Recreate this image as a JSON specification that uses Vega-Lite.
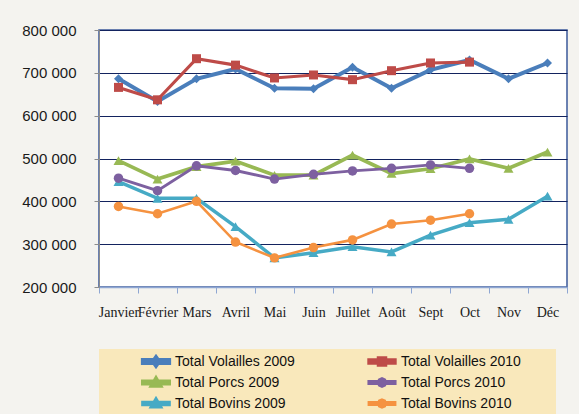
{
  "$schema": "https://vega.github.io/schema/vega-lite/v6.json",
  "width": 468,
  "height": 257,
  "autosize": {"type": "none"},
  "padding": {"left": 99, "top": 30, "right": 12, "bottom": 127},
  "background": "#f4f3ef",
  "config": {
    "view": {"fill": "white", "stroke": "#3b5a9a", "strokeWidth": 1.5},
    "axis": {"title": null}
  },
  "data": {
    "values": [
      {"month": "Janvier", "series": "Total Volailles 2009", "value": 686000},
      {"month": "Février", "series": "Total Volailles 2009", "value": 633000},
      {"month": "Mars", "series": "Total Volailles 2009", "value": 686000},
      {"month": "Avril", "series": "Total Volailles 2009", "value": 709000},
      {"month": "Mai", "series": "Total Volailles 2009", "value": 664000},
      {"month": "Juin", "series": "Total Volailles 2009", "value": 663000},
      {"month": "Juillet", "series": "Total Volailles 2009", "value": 713000},
      {"month": "Août", "series": "Total Volailles 2009", "value": 664000},
      {"month": "Sept", "series": "Total Volailles 2009", "value": 707000},
      {"month": "Oct", "series": "Total Volailles 2009", "value": 730000},
      {"month": "Nov", "series": "Total Volailles 2009", "value": 686000},
      {"month": "Déc", "series": "Total Volailles 2009", "value": 723000},
      {"month": "Janvier", "series": "Total Volailles 2010", "value": 666000},
      {"month": "Février", "series": "Total Volailles 2010", "value": 637000},
      {"month": "Mars", "series": "Total Volailles 2010", "value": 733000},
      {"month": "Avril", "series": "Total Volailles 2010", "value": 718000},
      {"month": "Mai", "series": "Total Volailles 2010", "value": 688000},
      {"month": "Juin", "series": "Total Volailles 2010", "value": 695000},
      {"month": "Juillet", "series": "Total Volailles 2010", "value": 684000},
      {"month": "Août", "series": "Total Volailles 2010", "value": 705000},
      {"month": "Sept", "series": "Total Volailles 2010", "value": 723000},
      {"month": "Oct", "series": "Total Volailles 2010", "value": 725000},
      {"month": "Janvier", "series": "Total Porcs 2009", "value": 495000},
      {"month": "Février", "series": "Total Porcs 2009", "value": 452000},
      {"month": "Mars", "series": "Total Porcs 2009", "value": 481000},
      {"month": "Avril", "series": "Total Porcs 2009", "value": 494000},
      {"month": "Mai", "series": "Total Porcs 2009", "value": 461000},
      {"month": "Juin", "series": "Total Porcs 2009", "value": 461000},
      {"month": "Juillet", "series": "Total Porcs 2009", "value": 508000},
      {"month": "Août", "series": "Total Porcs 2009", "value": 465000},
      {"month": "Sept", "series": "Total Porcs 2009", "value": 476000},
      {"month": "Oct", "series": "Total Porcs 2009", "value": 499000},
      {"month": "Nov", "series": "Total Porcs 2009", "value": 477000},
      {"month": "Déc", "series": "Total Porcs 2009", "value": 515000},
      {"month": "Janvier", "series": "Total Porcs 2010", "value": 454000},
      {"month": "Février", "series": "Total Porcs 2010", "value": 425000},
      {"month": "Mars", "series": "Total Porcs 2010", "value": 483000},
      {"month": "Avril", "series": "Total Porcs 2010", "value": 472000},
      {"month": "Mai", "series": "Total Porcs 2010", "value": 452000},
      {"month": "Juin", "series": "Total Porcs 2010", "value": 463000},
      {"month": "Juillet", "series": "Total Porcs 2010", "value": 471000},
      {"month": "Août", "series": "Total Porcs 2010", "value": 477000},
      {"month": "Sept", "series": "Total Porcs 2010", "value": 485000},
      {"month": "Oct", "series": "Total Porcs 2010", "value": 477000},
      {"month": "Janvier", "series": "Total Bovins 2009", "value": 446000},
      {"month": "Février", "series": "Total Bovins 2009", "value": 407000},
      {"month": "Mars", "series": "Total Bovins 2009", "value": 407000},
      {"month": "Avril", "series": "Total Bovins 2009", "value": 341000},
      {"month": "Mai", "series": "Total Bovins 2009", "value": 268000},
      {"month": "Juin", "series": "Total Bovins 2009", "value": 280000},
      {"month": "Juillet", "series": "Total Bovins 2009", "value": 294000},
      {"month": "Août", "series": "Total Bovins 2009", "value": 282000},
      {"month": "Sept", "series": "Total Bovins 2009", "value": 321000},
      {"month": "Oct", "series": "Total Bovins 2009", "value": 350000},
      {"month": "Nov", "series": "Total Bovins 2009", "value": 358000},
      {"month": "Déc", "series": "Total Bovins 2009", "value": 412000},
      {"month": "Janvier", "series": "Total Bovins 2010", "value": 388000},
      {"month": "Février", "series": "Total Bovins 2010", "value": 371000},
      {"month": "Mars", "series": "Total Bovins 2010", "value": 400000},
      {"month": "Avril", "series": "Total Bovins 2010", "value": 305000},
      {"month": "Mai", "series": "Total Bovins 2010", "value": 268000},
      {"month": "Juin", "series": "Total Bovins 2010", "value": 292000},
      {"month": "Juillet", "series": "Total Bovins 2010", "value": 310000},
      {"month": "Août", "series": "Total Bovins 2010", "value": 347000},
      {"month": "Sept", "series": "Total Bovins 2010", "value": 356000},
      {"month": "Oct", "series": "Total Bovins 2010", "value": 371000}
    ]
  },
  "encoding": {
    "x": {
      "field": "month", "type": "ordinal",
      "sort": ["Janvier","Février","Mars","Avril","Mai","Juin","Juillet","Août","Sept","Oct","Nov","Déc"],
      "scale": {"paddingInner": 0, "paddingOuter": 0},
      "axis": {
        "labelAngle": 0, "labelOverlap": false, "labelBound": false,
        "tickBand": "extent", "tickSize": 6, "labelPadding": 12,
        "domainColor": "#8ea6d2", "tickColor": "#8ea6d2", "domainWidth": 1.5,
        "labelFont": "Liberation Serif", "labelFontSize": 14, "labelColor": "#1a1a1a",
        "grid": false
      }
    },
    "y": {
      "field": "value", "type": "quantitative",
      "scale": {"domain": [200000, 800000], "nice": false, "zero": false},
      "axis": {
        "values": [200000, 300000, 400000, 500000, 600000, 700000, 800000],
        "labelExpr": "replace(format(datum.value, ','), /,/g, ' ')",
        "tickSize": 5, "labelPadding": 18,
        "domainColor": "#8c8c8c", "tickColor": "#8c8c8c",
        "labelFont": "Liberation Sans", "labelFontSize": 15, "labelColor": "#1a1a1a",
        "grid": true,
        "gridColor": {"condition": {"test": "datum.value === 200000", "value": "transparent"}, "value": "#13235f"},
        "gridWidth": 1.2
      }
    }
  },
  "layer": [
    {
      "transform": [{"filter": "datum.value < 0"}],
      "mark": {"type": "point", "filled": true, "opacity": 1, "strokeWidth": 0},
      "encoding": {
        "color": {
          "field": "series", "type": "nominal",
          "scale": {
            "domain": ["Total Volailles 2009", "Total Porcs 2009", "Total Bovins 2009", "Total Volailles 2010", "Total Porcs 2010", "Total Bovins 2010"],
            "range": ["#4a7ebb", "#98b954", "#46aac5", "#be4b48", "#7d60a0", "#f59240"]
          },
          "legend": {
            "orient": "none", "legendX": 0, "legendY": 319, "columns": 2,
            "title": " ", "titleOrient": "right", "titlePadding": 33,
            "fillColor": "#f9e8bb", "padding": 2,
            "symbolSize": 1024, "symbolStrokeWidth": 0, "symbolOffset": 37, "labelOffset": 1,
            "labelFont": "Liberation Sans", "labelFontSize": 14, "labelColor": "#111111",
            "labelLimit": 300, "clipHeight": 21, "rowPadding": 0, "columnPadding": 32,
            "encode": {"symbols": {"update": {"strokeWidth": {"value": 0}, "stroke": {"value": "transparent"}}}}
          }
        },
        "shape": {
          "field": "series", "type": "nominal",
          "scale": {
            "domain": ["Total Volailles 2009", "Total Porcs 2009", "Total Bovins 2009", "Total Volailles 2010", "Total Porcs 2010", "Total Bovins 2010"],
            "range": [
              "M-0.82,-0.1L0.82,-0.1L0.82,0.1L-0.82,0.1Z M0,-0.27L0.19,0L0,0.27L-0.19,0Z",
              "M-0.82,-0.07L0.82,-0.07L0.82,0.07L-0.82,0.07Z M0,-0.27L0.28,0.21L-0.28,0.21Z",
              "M-0.82,-0.07L0.82,-0.07L0.82,0.07L-0.82,0.07Z M0,-0.27L0.28,0.21L-0.28,0.21Z",
              "M-0.82,-0.1L0.82,-0.1L0.82,0.1L-0.82,0.1Z M-0.23,-0.23L0.23,-0.23L0.23,0.23L-0.23,0.23Z",
              "M-0.82,-0.07L0.82,-0.07L0.82,0.07L-0.82,0.07Z M0,-0.24L0.17,-0.17L0.24,0L0.17,0.17L0,0.24L-0.17,0.17L-0.24,0L-0.17,-0.17Z",
              "M-0.82,-0.07L0.82,-0.07L0.82,0.07L-0.82,0.07Z M0,-0.24L0.17,-0.17L0.24,0L0.17,0.17L0,0.24L-0.17,0.17L-0.24,0L-0.17,-0.17Z"
            ]
          },
          "legend": {
            "orient": "none", "legendX": 0, "legendY": 319, "columns": 2,
            "title": " ", "titleOrient": "right", "titlePadding": 33,
            "fillColor": "#f9e8bb", "padding": 2,
            "symbolSize": 1024, "symbolStrokeWidth": 0, "symbolOffset": 37, "labelOffset": 1,
            "labelFont": "Liberation Sans", "labelFontSize": 14, "labelColor": "#111111",
            "labelLimit": 300, "clipHeight": 21, "rowPadding": 0, "columnPadding": 32,
            "encode": {"symbols": {"update": {"strokeWidth": {"value": 0}, "stroke": {"value": "transparent"}}}}
          }
        }
      }
    },
    {
      "mark": {"type": "line"},
      "encoding": {
        "stroke": {
          "field": "series", "type": "nominal",
          "scale": {
            "domain": ["Total Volailles 2009", "Total Porcs 2009", "Total Bovins 2009", "Total Volailles 2010", "Total Porcs 2010", "Total Bovins 2010"],
            "range": ["#4a7ebb", "#98b954", "#46aac5", "#be4b48", "#7d60a0", "#f59240"]
          },
          "legend": null
        },
        "strokeWidth": {
          "field": "series", "type": "nominal",
          "scale": {
            "domain": ["Total Volailles 2009", "Total Porcs 2009", "Total Bovins 2009", "Total Volailles 2010", "Total Porcs 2010", "Total Bovins 2010"],
            "range": [4, 2.6, 2.6, 4, 2.6, 2.6]
          },
          "legend": null
        }
      }
    },
    {
      "transform": [{"filter": {"field": "series", "equal": "Total Volailles 2009"}}],
      "mark": {"type": "point", "shape": "diamond", "filled": true, "size": 81, "opacity": 1},
      "encoding": {"fill": {"field": "series", "type": "nominal", "scale": {"domain": ["Total Volailles 2009", "Total Porcs 2009", "Total Bovins 2009", "Total Volailles 2010", "Total Porcs 2010", "Total Bovins 2010"], "range": ["#4a7ebb", "#98b954", "#46aac5", "#be4b48", "#7d60a0", "#f59240"]}, "legend": null}}
    },
    {
      "transform": [{"filter": {"field": "series", "equal": "Total Volailles 2010"}}],
      "mark": {"type": "point", "shape": "square", "filled": true, "size": 81, "opacity": 1},
      "encoding": {"fill": {"field": "series", "type": "nominal", "scale": {"domain": ["Total Volailles 2009", "Total Porcs 2009", "Total Bovins 2009", "Total Volailles 2010", "Total Porcs 2010", "Total Bovins 2010"], "range": ["#4a7ebb", "#98b954", "#46aac5", "#be4b48", "#7d60a0", "#f59240"]}, "legend": null}}
    },
    {
      "transform": [{"filter": {"field": "series", "oneOf": ["Total Porcs 2009", "Total Bovins 2009"]}}],
      "mark": {"type": "point", "shape": "triangle-up", "filled": true, "size": 100, "opacity": 1},
      "encoding": {"fill": {"field": "series", "type": "nominal", "scale": {"domain": ["Total Volailles 2009", "Total Porcs 2009", "Total Bovins 2009", "Total Volailles 2010", "Total Porcs 2010", "Total Bovins 2010"], "range": ["#4a7ebb", "#98b954", "#46aac5", "#be4b48", "#7d60a0", "#f59240"]}, "legend": null}}
    },
    {
      "transform": [{"filter": {"field": "series", "oneOf": ["Total Porcs 2010", "Total Bovins 2010"]}}],
      "mark": {"type": "point", "shape": "circle", "filled": true, "size": 90, "opacity": 1},
      "encoding": {"fill": {"field": "series", "type": "nominal", "scale": {"domain": ["Total Volailles 2009", "Total Porcs 2009", "Total Bovins 2009", "Total Volailles 2010", "Total Porcs 2010", "Total Bovins 2010"], "range": ["#4a7ebb", "#98b954", "#46aac5", "#be4b48", "#7d60a0", "#f59240"]}, "legend": null}}
    }
  ]
}
